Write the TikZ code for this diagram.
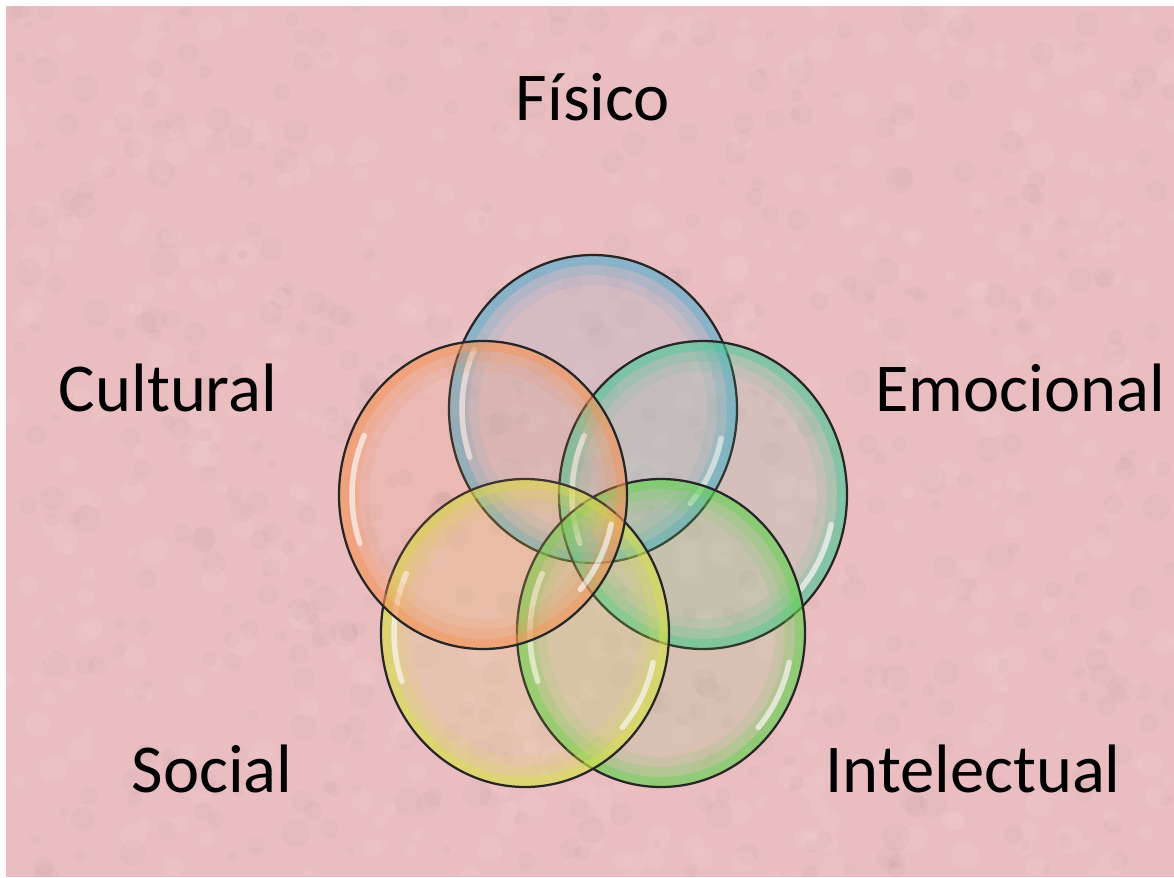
\documentclass[tikz,border=0pt]{standalone}
\usepackage{fontspec}
\setmainfont{Carlito}
\definecolor{fundo}{RGB}{234,190,193}
\definecolor{cfisico}{RGB}{88,172,205}
\definecolor{cemocional}{RGB}{78,200,150}
\definecolor{cintelectual}{RGB}{100,210,80}
\definecolor{csocial}{RGB}{215,225,75}
\definecolor{ccultural}{RGB}{242,148,88}
\tikzset{
  rotulo/.style={font=\fontsize{39}{46}\selectfont, inner sep=0pt, anchor=base},
  borda/.style={draw=black!85, line width=0.045cm},
  brilho/.style={white, opacity=0.6, line width=0.11cm, line cap=round}
}

\begin{document}
\begin{tikzpicture}[x=0.02cm, y=0.02cm]
        \useasboundingbox (0,0) rectangle (1174,-877);
        \fill[white] (0,0) rectangle (1174,-877);
        \fill[fundo] (6,-6) rectangle (1174,-877);
        % textura do fundo
        \pgfmathsetseed{17}
        \begin{scope}
                \clip (6,-6) rectangle (1174,-877);
                \foreach \i in {1,...,500}{
                        \pgfmathsetmacro\px{6+rnd*1168}
                        \pgfmathsetmacro\py{-6-rnd*871}
                        \pgfmathsetmacro\pr{4+rnd*10}
                        \fill[white, opacity=0.05] (\px,\py) circle[radius=\pr];
                }
                \foreach \i in {1,...,500}{
                        \pgfmathsetmacro\px{6+rnd*1168}
                        \pgfmathsetmacro\py{-6-rnd*871}
                        \pgfmathsetmacro\pr{4+rnd*10}
                        \fill[black!60!fundo, opacity=0.03] (\px,\py) circle[radius=\pr];
                }
        \end{scope}

        \coordinate (fis) at (593,-409);
        \coordinate (emo) at (703,-495);
        \coordinate (int) at (661,-633);
        \coordinate (soc) at (525,-633);
        \coordinate (cul) at (483,-495);

        \foreach \c/\cor in {fis/cfisico, emo/cemocional, int/cintelectual, soc/csocial, cul/ccultural}{
                \begin{scope}[shift={(\c)}]
                        \fill[\cor, fill opacity=0.13] (0,0) ellipse[x radius=144, y radius=154];
                        \draw[\cor, opacity=0.6, line width=0.2cm] (0,0) ellipse[x radius=139, y radius=149];
                        \draw[\cor, opacity=0.3, line width=0.2cm] (0,0) ellipse[x radius=129, y radius=139];
                        \draw[\cor, opacity=0.12, line width=0.2cm] (0,0) ellipse[x radius=119, y radius=129];
                        \draw[brilho] (155:131 and 141) arc[start angle=155, end angle=200, x radius=131, y radius=141];
                        \draw[brilho] (-12:131 and 141) arc[start angle=-12, end angle=-42, x radius=131, y radius=141];
                        \draw[borda] (0,0) ellipse[x radius=144, y radius=154];
                \end{scope}
        }

        \node (fisico) [rotulo] at (593,-120) {Físico};
        \node (cultural) [rotulo] at (168,-411) {Cultural};
        \node (emocional) [rotulo] at (1020,-411) {Emocional};
        \node (social) [rotulo] at (212,-792) {Social};
        \node (intelectual) [rotulo] at (973,-792) {Intelectual};
\end{tikzpicture}
\end{document}
